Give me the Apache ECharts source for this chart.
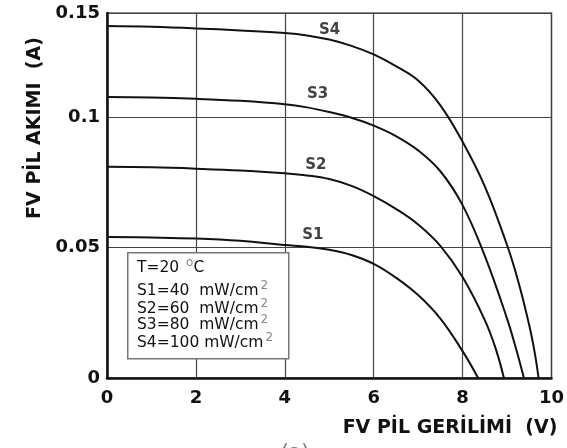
<!DOCTYPE html>
<html>
<head>
<meta charset="utf-8">
<script src="https://cdn.jsdelivr.net/npm/echarts@6/dist/echarts.min.js"></script>
<style>html,body{margin:0;padding:0;background:#fff}#c{width:567px;height:448px}</style>
</head>
<body>
<div id="c"></div>
<script>
// Data (voltage V, current A)
const s1V = [0, 1, 2, 3, 4, 4.5, 5, 5.5, 6, 6.5, 7, 7.5, 8, 8.35];
const s1I = [0.0541, 0.0539, 0.0535, 0.0526, 0.051, 0.0503, 0.0492, 0.0472, 0.0438, 0.0385, 0.0318, 0.0228, 0.0103, 0];
const s2V = [0, 1, 2, 3, 4, 4.5, 5, 5.5, 6, 6.5, 7, 7.5, 8, 8.5, 8.75, 8.93];
const s2I = [0.081, 0.0808, 0.0803, 0.0796, 0.0785, 0.0777, 0.0763, 0.0737, 0.0698, 0.0649, 0.0589, 0.0507, 0.0387, 0.0222, 0.011, 0];
const s3V = [0, 1, 2, 3, 4, 4.5, 5, 5.5, 6, 6.5, 7, 7.5, 8, 8.5, 9, 9.2, 9.38];
const s3I = [0.1078, 0.1076, 0.1071, 0.1063, 0.105, 0.1038, 0.102, 0.0998, 0.0968, 0.0928, 0.0873, 0.0793, 0.0663, 0.0468, 0.0228, 0.0114, 0];
const s4V = [0, 1, 2, 3, 4, 4.5, 5, 5.5, 6, 6.5, 7, 7.5, 8, 8.5, 9, 9.25, 9.5, 9.62, 9.71];
const s4I = [0.135, 0.1347, 0.1341, 0.1333, 0.1323, 0.1314, 0.1298, 0.1274, 0.1241, 0.1196, 0.1141, 0.1046, 0.0906, 0.0735, 0.051, 0.0372, 0.0202, 0.010, 0];
const seriesNames = ['S1', 'S2', 'S3', 'S4'];
const labelAnchors = [[4.63, 0.0548], [4.7, 0.0816], [4.74, 0.1088], [5.01, 0.1333]];
const yTickLabels = {0: '0', 0.05: '0.05', 0.1: '0.1', 0.14: '0.15'};
const xAxisName = 'FV PİL GERİLİMİ  (V)';
const yAxisName = 'FV PİL AKIMI  (A)';
const legendLines = [
  ['T=20 ', 'o', 'C'],
  ['S1=40  mW/cm', '2', ''],
  ['S2=60  mW/cm', '2', ''],
  ['S3=80  mW/cm', '2', ''],
  ['S4=100 mW/cm', '2', '']
];

const zip = (a, b) => a.map((v, i) => [v, b[i]]);
const allV = [s1V, s2V, s3V, s4V];
const allI = [s1I, s2I, s3I, s4I];

const chart = echarts.init(document.getElementById('c'), null, {renderer: 'canvas'});
const lineSeries = seriesNames.map((n, k) => ({
  name: n, type: 'line', data: zip(allV[k], allI[k]),
  smooth: 0.4, symbol: 'none',
  lineStyle: {color: '#111', width: 2}, z: 5
}));
const labelSeries = {
  type: 'scatter', symbolSize: 0, z: 6,
  data: labelAnchors.map((p, k) => ({value: p, name: seriesNames[k]})),
  label: {show: true, position: 'inside', formatter: p => p.name,
    fontFamily: 'DejaVu Sans', fontWeight: 'bold', fontSize: 15, color: '#111'}
};
const lineTop = [268, 291, 309, 325, 343];
const legendGraphics = [{
  type: 'rect', left: 127, top: 252, z: 20,
  shape: {width: 161, height: 106},
  style: {fill: '#fff', stroke: '#777', lineWidth: 1.5}
}];
legendLines.forEach((l, i) => {
  legendGraphics.push({
    type: 'text', x: 137, y: lineTop[i], z: 21,
    style: {
      text: l[0] + '{s|' + l[1] + '}' + l[2],
      verticalAlign: 'middle',
      font: '15.5px "DejaVu Sans"', fill: '#111',
      rich: {s: {fontSize: 12, fill: '#888', verticalAlign: 'top', padding: [0, 0, 10, 2], fontFamily: 'DejaVu Sans'}}
    }
  });
});
legendGraphics.push({
  type: 'text', x: 450, y: 428, z: 21,
  style: {text: xAxisName, align: 'center', verticalAlign: 'middle',
    font: 'bold 19px "DejaVu Sans"', fill: '#111'}
});
legendGraphics.push({
  type: 'text', x: 35, y: 128, rotation: Math.PI / 2, z: 21,
  style: {text: yAxisName, align: 'center', verticalAlign: 'middle',
    font: 'bold 19px "DejaVu Sans"', fill: '#111'}
});
legendGraphics.push({
  type: 'text', x: 295, y: 443, z: 21,
  style: {text: '(a)', align: 'center', verticalAlign: 'top',
    font: '20px "DejaVu Sans"', fill: '#6a7fa8'}
});

chart.setOption({
  animation: false,
  backgroundColor: '#fff',
  grid: {left: 107, right: 11, top: 13, bottom: 70, show: true,
    borderColor: '#666', borderWidth: 1.5, backgroundColor: 'transparent'},
  xAxis: {
    type: 'value', min: 0, max: 10, interval: 2,
    axisLine: {show: true, onZero: false, lineStyle: {color: '#111', width: 2.5}},
    axisTick: {show: false},
    splitLine: {show: true, lineStyle: {color: '#444', width: 1.2}},
    axisLabel: {margin: 11, fontFamily: 'DejaVu Sans', fontWeight: 'bold', fontSize: 18, color: '#111'}
  },
  yAxis: {
    type: 'value', min: 0, max: 0.14, interval: 0.05,
    axisLine: {show: true, onZero: false, lineStyle: {color: '#111', width: 2.5}},
    axisTick: {show: false},
    splitLine: {show: true, lineStyle: {color: '#444', width: 1.2}},
    axisLabel: {margin: 7, fontFamily: 'DejaVu Sans', fontWeight: 'bold', fontSize: 18, color: '#111',
      showMaxLabel: true,
      formatter: v => {
        for (const k in yTickLabels) { if (Math.abs(+k - v) < 1e-6) return yTickLabels[k]; }
        return '';
      }}
  },
  series: [...lineSeries, labelSeries],
  graphic: legendGraphics
});
</script>
</body>
</html>
